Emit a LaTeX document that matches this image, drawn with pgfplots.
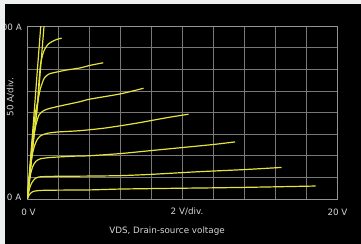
\documentclass[border=0pt]{standalone}
\usepackage{pgfplots}
\pgfplotsset{compat=1.18}
\usepackage{fontspec}
\setmainfont{DejaVu Sans}
\definecolor{bgstrip}{RGB}{238,240,240}
\definecolor{txt}{RGB}{215,215,215}
\definecolor{gridc}{RGB}{120,120,120}
\definecolor{curve}{RGB}{228,228,60}
\tikzset{crv/.style={curve, line width=1.2bp, smooth, tension=0.4, mark=none}}
\begin{document}
\begin{tikzpicture}[x=1bp,y=1bp]
\useasboundingbox (0,0) rectangle (361,244);
\fill[bgstrip] (0,0) rectangle (361,244);
\fill[black] (5,0) rectangle (361,240);
\begin{axis}[
  at={(27.3bp,45bp)}, anchor=south west,
  scale only axis, width=310bp, height=173bp,
  xmin=0, xmax=20, ymin=0, ymax=400,
  xtick={0,2,...,20}, ytick={0,50,...,400},
  xticklabels={}, yticklabels={},
  major tick length=0pt,
  grid=major,
  grid style={gridc, line width=0.7bp},
  axis line style={gridc!80!white, line width=0.9bp},
  clip=true,
]
\addplot[crv] coordinates {(0,0) (0.1,8) (0.2,13) (0.35,17) (0.6,19) (1,20) (2,20.5) (4,21) (6,23) (9,24.5) (12.4,26) (15,27.5) (18.6,30)};
\addplot[crv] coordinates {(0,0) (0.15,25) (0.3,38) (0.5,47) (0.75,51) (1.2,52) (2,52.5) (4,53) (6,54) (8,57) (11,63) (14,68) (16.4,73)};
\addplot[crv] coordinates {(0,0) (0.2,55) (0.35,75) (0.55,87) (0.85,93) (1.5,96) (3,99) (4,100) (6,105) (8,112) (10,119) (12,126) (13.4,132)};
\addplot[crv] coordinates {(0,0) (0.25,85) (0.4,115) (0.6,135) (0.85,146) (1.3,152) (2,155) (3.4,158) (5,164) (7,175) (9,188) (10.4,196)};
\addplot[crv] coordinates {(0,0) (0.35,130) (0.55,170) (0.75,194) (1.0,203) (1.3,208) (2.1,215) (3.4,225) (4.05,231) (6,243) (7.5,256)};
\addplot[crv] coordinates {(0,0) (0.45,180) (0.7,230) (0.85,256) (1.1,280) (1.4,289) (1.7,292) (2.5,298) (3.4,303) (4.05,309) (4.9,315)};
\addplot[crv] coordinates {(0,0) (0.35,120) (0.65,215) (0.75,270) (0.85,310) (1.0,335) (1.15,348) (1.35,358) (1.6,364) (1.9,369) (2.22,372)};
\addplot[crv] coordinates {(0,0) (0.4,180) (0.6,275) (0.87,400) (0.9,415)};
\addplot[crv] coordinates {(0,0) (0.35,120) (0.65,215) (0.85,300) (1.08,400) (1.12,415)};
\end{axis}
\begin{scope}[txt, font=\fontsize{8.8}{9}\selectfont]
\node[anchor=east, inner sep=0pt] at (22,216.5) {400 A};
\node[anchor=east, inner sep=0pt] at (21.5,47) {0 A};
\node[inner sep=0pt] at (28.5,32) {0 V};
\node[inner sep=0pt] at (187,32) {2 V/div.};
\node[inner sep=0pt] at (337.5,32) {20 V};
\node[inner sep=0pt] at (167,12.5) {VDS, Drain-source voltage};
\node[inner sep=0pt, rotate=90] at (10.5,147) {50 A/div.};
\end{scope}
\fill[bgstrip] (0,0) rectangle (5,244);
\fill[bgstrip] (0,240) rectangle (361,244);
\end{tikzpicture}
\end{document}
